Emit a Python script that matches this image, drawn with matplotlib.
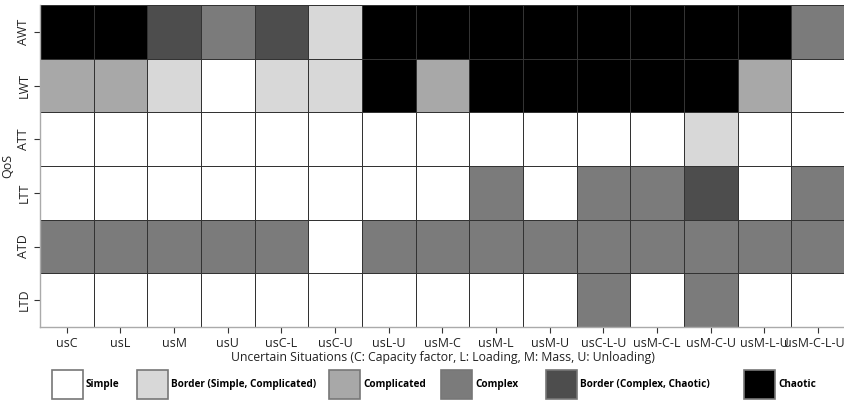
import matplotlib
matplotlib.use("Agg")
import matplotlib.pyplot as plt
import numpy as np
from matplotlib.colors import ListedColormap, BoundaryNorm
from matplotlib.patches import Patch
from matplotlib.transforms import ScaledTranslation

plt.rcParams["font.family"] = ["Open Sans", "DejaVu Sans"]

situations = ["usC", "usL", "usM", "usU", "usC-L", "usC-U", "usL-U", "usM-C",
              "usM-L", "usM-U", "usC-L-U", "usM-C-L", "usM-C-U", "usM-L-U", "usM-C-L-U"]
qos = ["AWT", "LWT", "ATT", "LTT", "ATD", "LTD"]

# 0 Simple, 1 Border (Simple, Complicated), 2 Complicated,
# 3 Complex, 4 Border (Complex, Chaotic), 5 Chaotic
awt = [5, 5, 4, 3, 4, 1, 5, 5, 5, 5, 5, 5, 5, 5, 3]
lwt = [2, 2, 1, 0, 1, 1, 5, 2, 5, 5, 5, 5, 5, 2, 0]
att = [0, 0, 0, 0, 0, 0, 0, 0, 0, 0, 0, 0, 1, 0, 0]
ltt = [0, 0, 0, 0, 0, 0, 0, 0, 3, 0, 3, 3, 4, 0, 3]
atd = [3, 3, 3, 3, 3, 0, 3, 3, 3, 3, 3, 3, 3, 3, 3]
ltd = [0, 0, 0, 0, 0, 0, 0, 0, 0, 0, 3, 0, 3, 0, 0]

domains = ["Simple", "Border (Simple, Complicated)", "Complicated",
           "Complex", "Border (Complex, Chaotic)", "Chaotic"]
shades = ["#ffffff", "#d8d8d8", "#a8a8a8", "#7b7b7b", "#4d4d4d", "#000000"]

grid = np.array([awt, lwt, att, ltt, atd, ltd])

W, H = 845, 400
fig = plt.figure(figsize=(W / 100, H / 100), dpi=100)
ax = fig.add_axes([40 / W, 73 / H, 805 / W, 322 / H])

cmap = ListedColormap(shades)
norm = BoundaryNorm(np.arange(-0.5, 6.5, 1), cmap.N)
ax.pcolormesh(np.arange(len(situations) + 1), np.arange(len(qos) + 1), grid,
              cmap=cmap, norm=norm, edgecolors="#333333", linewidth=0.7)
ax.set_xlim(0, len(situations))
ax.set_ylim(len(qos), 0)

ax.set_xticks(np.arange(len(situations)) + 0.5)
ax.set_xticklabels(situations, fontsize=9.0)
ax.set_yticks(np.arange(len(qos)) + 0.5)
ax.set_yticklabels(qos, fontsize=9.0, rotation=90, va="center")
ax.tick_params(colors="#333333", length=4, width=0.8, labelcolor="#222222", pad=3)

# nudge the last column label inward so it stays inside the figure
last = ax.get_xticklabels()[-1]
last.set_transform(last.get_transform() + ScaledTranslation(-4 / 100, 0, fig.dpi_scale_trans))

ax.set_xlabel("Uncertain Situations (C: Capacity factor, L: Loading, M: Mass, U: Unloading)",
              fontsize=8.8, labelpad=1, color="#222222")
ax.set_ylabel("QoS", fontsize=9.0, labelpad=2, color="#222222")

for side in ["top", "right"]:
    ax.spines[side].set_visible(False)
for side in ["left", "bottom"]:
    ax.spines[side].set_color("#aaaaaa")
    ax.spines[side].set_linewidth(1.0)

# one key entry per domain, laid out along the bottom of the figure
key_left = [51, 136, 328, 440, 545, 743]
for colour, label, x in zip(shades, domains, key_left):
    handle = Patch(facecolor=colour, edgecolor="#777777", linewidth=1.2)
    fig.legend([handle], [label], loc="lower left", bbox_to_anchor=(x / W, 0.0),
               frameon=False, handlelength=3.1, handleheight=4.1,
               handletextpad=0.3, borderpad=0.0, borderaxespad=0.1,
               prop={"weight": "bold", "size": 7.2})

fig.savefig("out.png", dpi=100)
